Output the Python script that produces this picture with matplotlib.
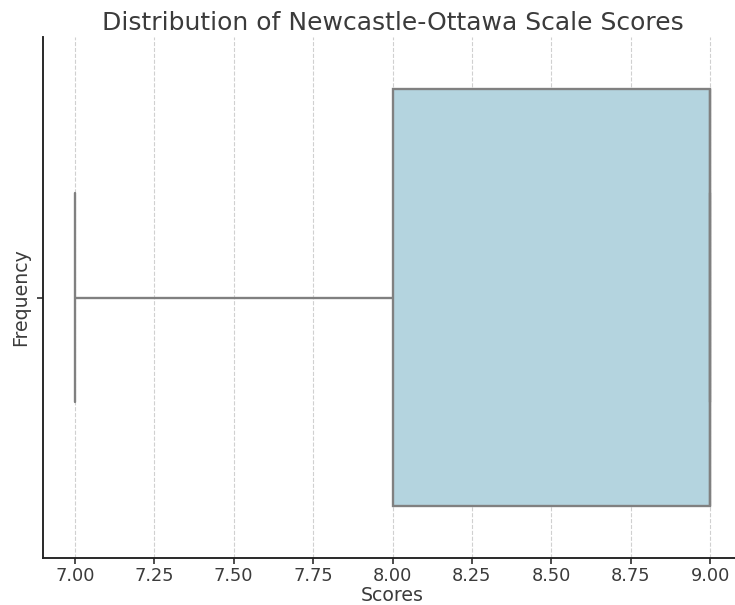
import matplotlib
matplotlib.use('Agg')
import matplotlib.pyplot as plt
import seaborn as sns

# Newcastle-Ottawa 점수 (box: Q1=8, median=Q3=9, whisker down to 7)
scores = [7, 8, 8, 9, 9, 9, 9, 9]
xticks = [7.00, 7.25, 7.50, 7.75, 8.00, 8.25, 8.50, 8.75, 9.00]

sns.set_style('white')
plt.rcParams['font.family'] = ['DejaVu Sans']
txt = '#3b3b3b'
plt.rcParams['text.color'] = txt
plt.rcParams['axes.labelcolor'] = txt
plt.rcParams['xtick.color'] = txt
plt.rcParams['ytick.color'] = txt

fig = plt.figure(figsize=(735/80, 605/80), dpi=80)
ax = fig.add_axes([43/735, 47/605, 699/735, 521/605])

sns.boxplot(x=scores, color='lightblue', linecolor='#808080', linewidth=2.1, ax=ax)

ax.set_xlim(6.9, 9.1)
ax.set_ylim(0.5, -0.5)
ax.set_xticks(xticks)
ax.set_xticklabels(['%.2f' % t for t in xticks], fontsize=16)
ax.set_yticks([0])
ax.set_yticklabels([''])
ax.tick_params(axis='both', length=5, width=1.6, pad=3, direction='out', bottom=True, left=True)
ax.grid(axis='x', linestyle='--', color='#d0d0d0', linewidth=1.0)
ax.set_axisbelow(True)
for s in ['top', 'right']:
    ax.spines[s].set_visible(False)
for s in ['left', 'bottom']:
    ax.spines[s].set_color('#222222')
    ax.spines[s].set_linewidth(1.7)

ax.set_title('Distribution of Newcastle-Ottawa Scale Scores', fontsize=22.5)
ax.set_xlabel('Scores', fontsize=17, labelpad=1)
ax.set_ylabel('Frequency', fontsize=17, labelpad=4)

fig.savefig('out.png', dpi=80)
